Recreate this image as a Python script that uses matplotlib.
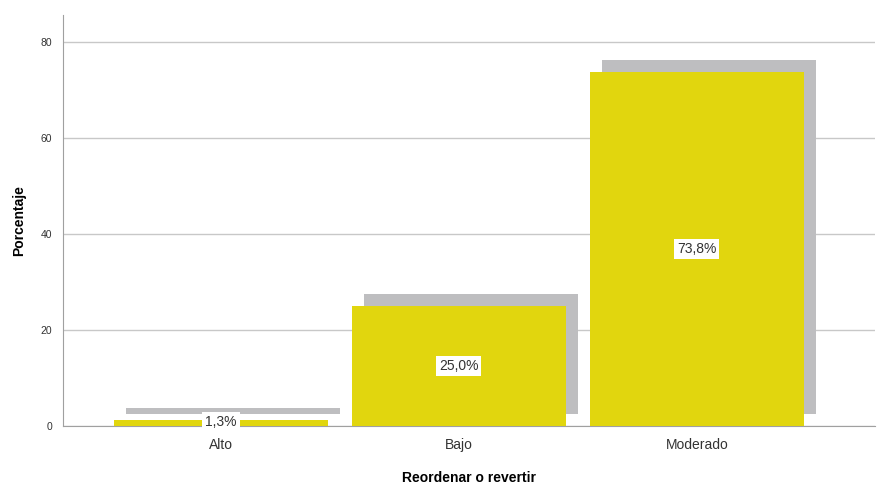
import numpy as np
import matplotlib.pyplot as plt

plt.rcParams['font.family'] = ['Liberation Sans', 'DejaVu Sans']

# Chart data
categories = ["Alto", "Bajo", "Moderado"]
percentages = [1.3, 25.0, 73.8]
labels = ["1,3%", "25,0%", "73,8%"]

bar_color = "#E1D60E"
shadow_color = "#BEBEC0"

fig = plt.figure(figsize=(8.89, 4.86), dpi=100)
ax = fig.add_axes([0.0709, 0.1235, 0.9131, 0.8457])

x = np.arange(len(categories))
width = 0.9

# shadow drawn behind, offset right and up
ax.bar(x + 0.05, percentages, width=width, bottom=2.5, color=shadow_color, zorder=2)
ax.bar(x, percentages, width=width, color=bar_color, zorder=3)

for xi, val, lab in zip(x, percentages, labels):
    ax.text(xi, max(val / 2, 0.9), lab, ha="center", va="center", fontsize=10,
            color="#333333", zorder=5,
            bbox=dict(facecolor="white", edgecolor="none", pad=2))

ax.set_xlim(-0.664, 2.748)
ax.set_ylim(0, 85.6)
ax.set_yticks([0, 20, 40, 60, 80])
ax.set_xticks(x)
ax.set_xticklabels(categories, fontsize=10, color="#333333")
ax.tick_params(axis="y", labelsize=7.5, length=0, pad=8, colors="#333333")
ax.tick_params(axis="x", length=0, pad=9)

ax.yaxis.grid(True, color="#C8C8C8", linewidth=1, zorder=0)
ax.set_axisbelow(True)
for s in ["top", "right"]:
    ax.spines[s].set_visible(False)
ax.spines["left"].set_color("#A0A0A0")
ax.spines["bottom"].set_color("#A0A0A0")

ax.set_ylabel("Porcentaje", fontsize=10, fontweight="bold", labelpad=10)
ax.set_xlabel("Reordenar o revertir", fontsize=10, fontweight="bold", labelpad=13)

fig.savefig("out.png", dpi=100)
